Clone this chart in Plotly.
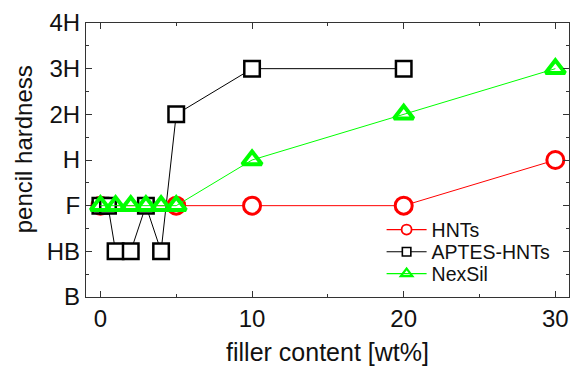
import plotly.graph_objects as go

# Hardness scale (tick labels, bottom to top)
hardness_levels = ["B", "HB", "F", "H", "2H", "3H", "4H"]

# HNTs
hnt_x = [0, 5, 10, 20, 30]
hnt_y = ["F", "F", "F", "F", "H"]

# APTES-HNTs
aptes_x = [0, 0.5, 1, 2, 3, 4, 5, 10, 20]
aptes_y = ["F", "F", "HB", "HB", "F", "HB", "2H", "3H", "3H"]

# NexSil
nex_x = [0, 1, 2, 3, 4, 5, 10, 20, 30]
nex_y = ["F", "F", "F", "F", "F", "F", "H", "2H", "3H"]

level_index = {lab: i for i, lab in enumerate(hardness_levels)}

def to_idx(vals):
    return [level_index[v] for v in vals]

FONT = "Liberation Sans, Arial, sans-serif"
TXT = "#111111"
RED = "#ff0000"
BLACK = "#000000"
GREEN = "#00ff00"

fig = go.Figure()

series = [
    ("HNTs", hnt_x, hnt_y, RED, "circle", 17, 3.0, "white"),
    ("APTES-HNTs", aptes_x, aptes_y, BLACK, "square", 15.5, 2.5, "white"),
    ("NexSil", nex_x, nex_y, GREEN, "triangle-up-open", 17, 4.0, None),
]

for name, xs, ys, col, sym, size, lw, fill in series:
    marker = dict(symbol=sym, size=size, line=dict(color=col, width=lw))
    marker["color"] = fill if fill else col
    fig.add_trace(go.Scatter(
        x=xs, y=to_idx(ys), mode="lines+markers", name=name,
        line=dict(color=col, width=1), marker=marker, showlegend=False,
    ))

# legend entries (one small legend each, for exact spacing), smaller markers
leg_style = {
    "HNTs": dict(size=10, lw=1.8, legend="legend"),
    "APTES-HNTs": dict(size=8.5, lw=1.6, legend="legend2"),
    "NexSil": dict(size=10, lw=2.2, legend="legend3"),
}
for name, xs, ys, col, sym, size, lw, fill in series:
    st = leg_style[name]
    fig.add_trace(go.Scatter(
        x=[None], y=[None], mode="lines+markers", name=name,
        line=dict(color=col, width=1.2),
        marker=dict(symbol=sym, size=st["size"], color=(fill if fill else col),
                    line=dict(color=col, width=st["lw"])),
        showlegend=True, legend=st["legend"],
    ))

axis_common = dict(
    showline=True, linecolor="#333333", linewidth=1.2, mirror="allticks",
    ticks="inside", ticklen=6, tickwidth=1, tickcolor="#333333",
    showgrid=False, zeroline=False, automargin=False,
    tickfont=dict(family=FONT, size=24, color=TXT),
)

def legend_box(ycenter):
    return dict(
        x=0.612, y=ycenter, xanchor="left", yanchor="middle",
        bgcolor="rgba(0,0,0,0)", borderwidth=0,
        font=dict(family=FONT, size=19.5, color=TXT),
        itemwidth=40,
    )

fig.update_layout(
    width=571, height=369,
    margin=dict(l=86, r=1.5, t=22.5, b=72),
    paper_bgcolor="white", plot_bgcolor="white",
    font=dict(family=FONT, color=TXT),
    xaxis=dict(
        range=[-0.95, 30.9], tickvals=[0, 10, 20, 30],
        minor=dict(tickvals=[5, 15, 25], ticks="inside", ticklen=3, tickcolor="#333333"),
        title=dict(text="filler content [wt%]", font=dict(family=FONT, size=25, color=TXT), standoff=12),
        **axis_common,
    ),
    yaxis=dict(
        range=[0, 6], tickvals=list(range(len(hardness_levels))), ticktext=hardness_levels,
        minor=dict(tickvals=[0.5, 1.5, 2.5, 3.5, 4.5, 5.5], ticks="inside", ticklen=3, tickcolor="#333333"),
        **axis_common,
    ),
    legend=legend_box(0.245),
    legend2=legend_box(0.164),
    legend3=legend_box(0.084),
    annotations=[dict(
        text="pencil hardness", textangle=-90, showarrow=False,
        xref="paper", yref="paper", x=0, y=0.539, xanchor="center", yanchor="middle",
        xshift=-63, font=dict(family=FONT, size=24, color=TXT),
    )],
)

fig.write_html("out.html", post_script="document.body.style.margin='0';",
               config={"displayModeBar": False})
